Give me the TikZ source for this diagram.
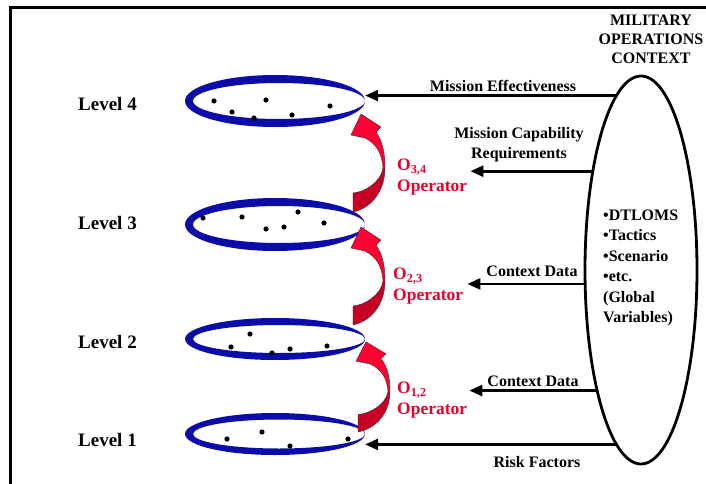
\documentclass[tikz,border=0pt]{standalone}
\usepackage{fontspec}
\setmainfont{Liberation Serif}
\usetikzlibrary{arrows.meta,shapes.geometric}
\definecolor{ringblue}{RGB}{12,12,168}
\definecolor{oprred}{RGB}{235,0,45}
\definecolor{arrowlight}{RGB}{255,0,50}
\definecolor{arrowdark}{RGB}{200,0,38}
\tikzset{
  lbl/.style={font=\bfseries\fontsize{16}{20}\selectfont, inner sep=0pt},
  lvl/.style={font=\bfseries\fontsize{19}{22}\selectfont, inner sep=0pt},
  oplbl/.style={font=\bfseries\fontsize{17.5}{21}\selectfont, inner sep=0pt, text=oprred, align=left},
  feed/.style={line width=2.6pt, -{Triangle[length=13pt,width=11pt]}},
  ringnode/.style={ellipse, minimum width=180pt, inner sep=0pt},
  % curved operator arrow, origin at the lower left corner of its tail
  opcurve/.pic={
    \filldraw[fill=arrowdark, draw=black!80, line width=0.4pt]
      (0,-19) .. controls (12,-20) and (28,-30) .. (30,-44)
      -- (32,-44) .. controls (32,-25) and (22,-5) .. (0,0) -- cycle;
    \filldraw[fill=arrowlight, draw=black!80, line width=0.4pt]
      (30,-44) .. controls (29,-58) and (24,-68) .. (12,-74)
      -- (-2,-77) -- (8,-98) -- (28,-85) -- (23,-80)
      .. controls (30,-70) and (32,-58) .. (32,-44) -- cycle;
  }
}
\begin{document}
\begin{tikzpicture}[x=1pt,y=-1pt]
\useasboundingbox (0,0) rectangle (706,484);

% frame corner
\draw[line width=2.5pt] (10.5,484) -- (10.5,7.5) -- (706,7.5);

% level rings
\foreach \cy/\r/\ir in {101/26/18, 224.5/26.5/18.5, 339/21/14, 434/21/14.5}{
  \fill[ringblue, even odd rule] (275,\cy) ellipse [x radius=90, y radius=\r]
        (279,\cy) ellipse [x radius=86, y radius=\ir];
}
\node[ringnode, minimum height=52pt] (ring4) at (275,101) {};
\node[ringnode, minimum height=53pt] (ring3) at (275,224.5) {};
\node[ringnode, minimum height=42pt] (ring2) at (275,339) {};
\node[ringnode, minimum height=42pt] (ring1) at (275,434) {};

% points on the rings
\foreach \px/\py in {214/101, 232/112, 266/100, 254/118, 292/115, 330/106,
                     203/218, 242/217, 266/229, 284/227, 298/212, 324/223,
                     250/334, 231/347, 272/353, 290/349, 327/346,
                     227/439, 262/432, 290/446, 348/439}
  \fill (\px,\py) circle [radius=2.6];

% level labels
\node[lvl, anchor=west] (lv4) at (78,104) {Level 4};
\node[lvl, anchor=west] (lv3) at (78,223) {Level 3};
\node[lvl, anchor=west] (lv2) at (78,342) {Level 2};
\node[lvl, anchor=west] (lv1) at (78,440) {Level 1};

% operators between levels
\pic at (353,212) {opcurve};
\pic at (353,325) {opcurve};
\pic[yscale=0.92] at (358,432) {opcurve};
\node[oplbl, anchor=west] (op34) at (397,177) {O\textsubscript{3,4}\\Operator};
\node[oplbl, anchor=west] (op23) at (393,286) {O\textsubscript{2,3}\\Operator};
\node[oplbl, anchor=west] (op12) at (397,400) {O\textsubscript{1,2}\\Operator};

% military operations context
\node[lbl, align=center, font=\bfseries\fontsize{16}{19}\selectfont] (title) at (651,39) {MILITARY\\OPERATIONS\\CONTEXT};
\node[ellipse, draw, line width=2.8pt, outer sep=0pt, minimum width=112pt, minimum height=388pt, inner sep=0pt] (ctx) at (641,270) {};
\node[lbl, align=left, anchor=west, font=\bfseries\fontsize{16}{20.5}\selectfont] (ctxtxt) at (603,268)
  {•DTLOMS\\•Tactics\\•Scenario\\•etc.\\(Global\\Variables)};

% flows from the context
\draw[feed] (ctx.98.35) -- (ctx.98.35 -| ring4.east);
\draw[feed] (ctx.116.2) -- ([xshift=3pt]ctx.116.2 -| op34.east);
\draw[feed] (ctx.194.1) -- ([xshift=4pt]ctx.194.1 -| op23.east);
\draw[feed] (ctx.250.6) -- ([xshift=2pt]ctx.250.6 -| op12.east);
\draw[feed] (ctx.262.6) -- (ctx.262.6 -| ring1.east);

\node[lbl] (meff) at (503,86) {Mission Effectiveness};
\node[lbl, align=center] (mcap) at (519,145) {Mission Capability\\Requirements};
\node[lbl] (cd1) at (532,271) {Context Data};
\node[lbl] (cd2) at (533,381) {Context Data};
\node[lbl] (risk) at (537,462) {Risk Factors};
\end{tikzpicture}
\end{document}
